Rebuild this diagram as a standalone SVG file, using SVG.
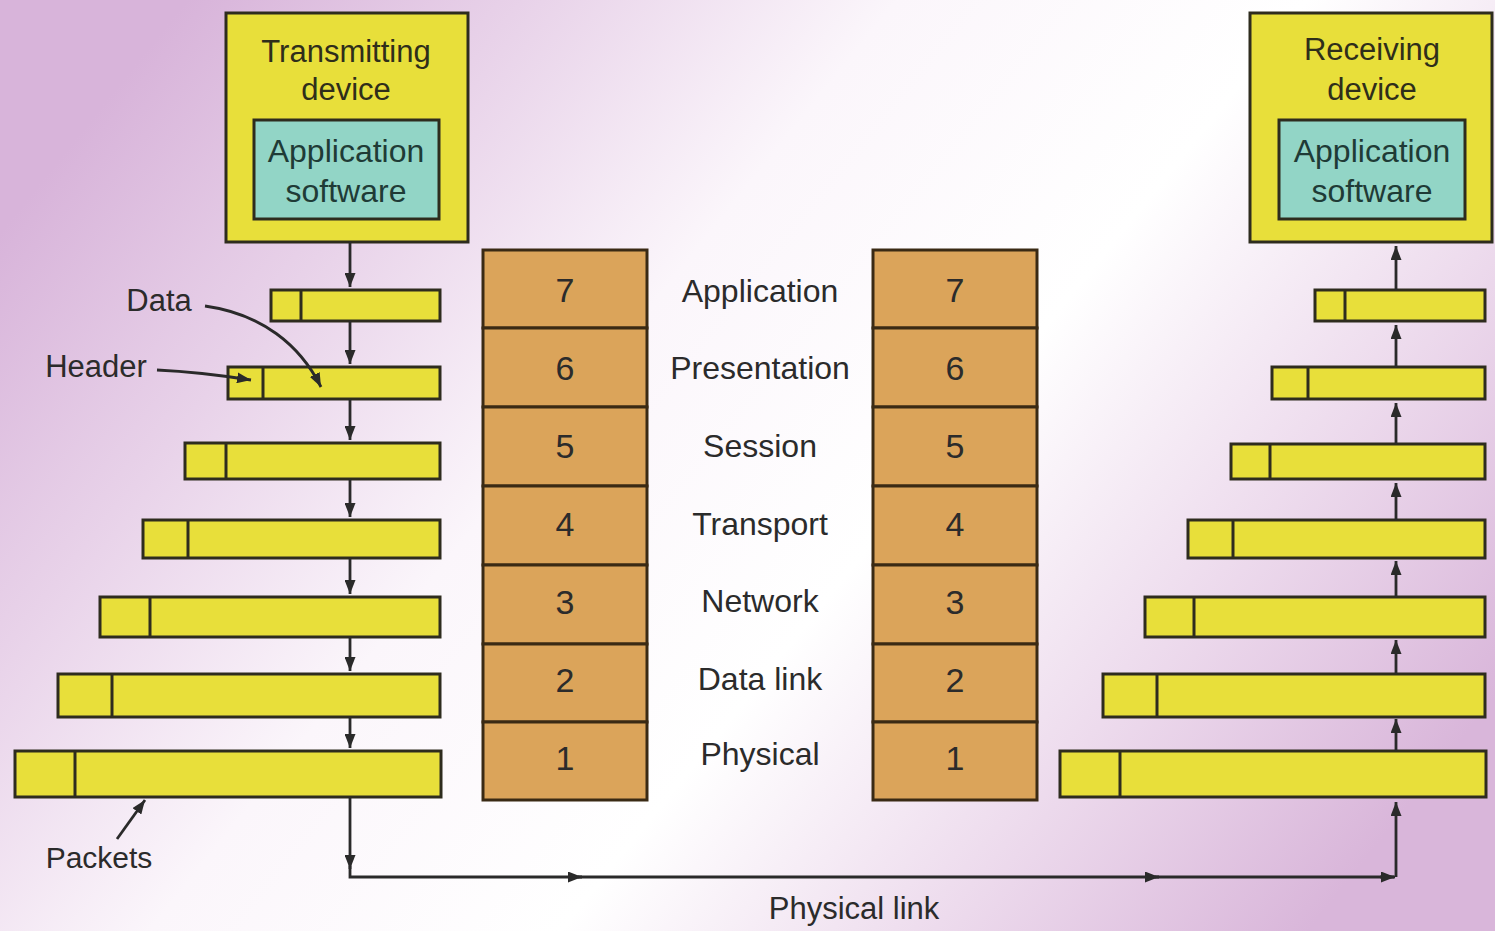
<svg xmlns="http://www.w3.org/2000/svg" width="1495" height="931" viewBox="0 0 1495 931">
<defs>
<linearGradient id="bg" x1="0" y1="0.25" x2="1" y2="0.75">
<stop offset="0" stop-color="#d8b4da"/>
<stop offset="0.18" stop-color="#e8d2e9"/>
<stop offset="0.38" stop-color="#fbf6fb"/>
<stop offset="0.6" stop-color="#ffffff"/>
<stop offset="0.8" stop-color="#eddbed"/>
<stop offset="1" stop-color="#d9b6da"/>
</linearGradient>
<marker id="ah" viewBox="0 0 14 11" refX="14" refY="5.5" markerWidth="14" markerHeight="11" orient="auto" markerUnits="userSpaceOnUse">
<path d="M0,0 L14,5.5 L0,11 z" fill="#2a2a2a"/>
</marker>
<style>
.dev{fill:#e8df3a;stroke:#2e2c1e;stroke-width:3}
.app{fill:#92d5c6;stroke:#2e2c1e;stroke-width:3}
.pk{fill:#e8df3a;stroke:#2e2c1e;stroke-width:3}
.div{stroke:#2e2c1e;stroke-width:3}
.ly{fill:#dba45a;stroke:#3a2a14;stroke-width:3}
.t{font-family:"Liberation Sans",Arial,sans-serif;fill:#2b2b2b;text-anchor:middle}
.td{font-family:"Liberation Sans",Arial,sans-serif;fill:#2f2e1a;text-anchor:middle;font-size:31px}
.ta{font-family:"Liberation Sans",Arial,sans-serif;fill:#1f3b36;text-anchor:middle;font-size:32px}
.lbl{font-size:32px}
.num{font-size:34px}
.cn{fill:none;stroke:#2a2a2a;stroke-width:2.8}
</style>
</defs>
<rect x="0" y="0" width="1495" height="931" fill="url(#bg)"/>

<g id="transmitting-device">
<rect class="dev" x="226" y="13" width="242" height="229"/>
<text class="td" x="346" y="62">Transmitting</text>
<text class="td" x="346" y="100">device</text>
<g id="tx-app">
<rect class="app" x="254" y="120" width="185" height="99"/>
<text class="ta" x="346" y="162">Application</text>
<text class="ta" x="346" y="202">software</text>
</g>
</g>

<g id="receiving-device">
<rect class="dev" x="1250" y="13" width="242" height="229"/>
<text class="td" x="1372" y="60">Receiving</text>
<text class="td" x="1372" y="100">device</text>
<g id="rx-app">
<rect class="app" x="1279" y="120" width="186" height="99"/>
<text class="ta" x="1372" y="162">Application</text>
<text class="ta" x="1372" y="202">software</text>
</g>
</g>

<g id="tx-packets">
<g id="tx-p1"><rect class="pk" x="271" y="290" width="169" height="31"/><line class="div" x1="301" y1="290" x2="301" y2="321"/></g>
<g id="tx-p2"><rect class="pk" x="228" y="367" width="212" height="32"/><line class="div" x1="263" y1="367" x2="263" y2="399"/></g>
<g id="tx-p3"><rect class="pk" x="185" y="443" width="255" height="36"/><line class="div" x1="226" y1="443" x2="226" y2="479"/></g>
<g id="tx-p4"><rect class="pk" x="143" y="520" width="297" height="38"/><line class="div" x1="188" y1="520" x2="188" y2="558"/></g>
<g id="tx-p5"><rect class="pk" x="100" y="597" width="340" height="40"/><line class="div" x1="150" y1="597" x2="150" y2="637"/></g>
<g id="tx-p6"><rect class="pk" x="58" y="674" width="382" height="43"/><line class="div" x1="112" y1="674" x2="112" y2="717"/></g>
<g id="tx-p7"><rect class="pk" x="15" y="751" width="426" height="46"/><line class="div" x1="75" y1="751" x2="75" y2="797"/></g>
</g>

<g id="rx-packets">
<g id="rx-p1"><rect class="pk" x="1315" y="290" width="170" height="31"/><line class="div" x1="1345" y1="290" x2="1345" y2="321"/></g>
<g id="rx-p2"><rect class="pk" x="1272" y="367" width="213" height="32"/><line class="div" x1="1308" y1="367" x2="1308" y2="399"/></g>
<g id="rx-p3"><rect class="pk" x="1231" y="444" width="254" height="35"/><line class="div" x1="1270" y1="444" x2="1270" y2="479"/></g>
<g id="rx-p4"><rect class="pk" x="1188" y="520" width="297" height="38"/><line class="div" x1="1233" y1="520" x2="1233" y2="558"/></g>
<g id="rx-p5"><rect class="pk" x="1145" y="597" width="340" height="40"/><line class="div" x1="1194" y1="597" x2="1194" y2="637"/></g>
<g id="rx-p6"><rect class="pk" x="1103" y="674" width="382" height="43"/><line class="div" x1="1157" y1="674" x2="1157" y2="717"/></g>
<g id="rx-p7"><rect class="pk" x="1060" y="751" width="426" height="46"/><line class="div" x1="1120" y1="751" x2="1120" y2="797"/></g>
</g>

<g id="tx-stack">
<rect class="ly" x="483" y="250" width="164" height="78"/><text class="t num" x="565" y="302">7</text>
<rect class="ly" x="483" y="328" width="164" height="79"/><text class="t num" x="565" y="380">6</text>
<rect class="ly" x="483" y="407" width="164" height="79"/><text class="t num" x="565" y="458">5</text>
<rect class="ly" x="483" y="486" width="164" height="79"/><text class="t num" x="565" y="536">4</text>
<rect class="ly" x="483" y="565" width="164" height="79"/><text class="t num" x="565" y="614">3</text>
<rect class="ly" x="483" y="644" width="164" height="78"/><text class="t num" x="565" y="692">2</text>
<rect class="ly" x="483" y="722" width="164" height="78"/><text class="t num" x="565" y="770">1</text>
</g>

<g id="rx-stack">
<rect class="ly" x="873" y="250" width="164" height="78"/><text class="t num" x="955" y="302">7</text>
<rect class="ly" x="873" y="328" width="164" height="79"/><text class="t num" x="955" y="380">6</text>
<rect class="ly" x="873" y="407" width="164" height="79"/><text class="t num" x="955" y="458">5</text>
<rect class="ly" x="873" y="486" width="164" height="79"/><text class="t num" x="955" y="536">4</text>
<rect class="ly" x="873" y="565" width="164" height="79"/><text class="t num" x="955" y="614">3</text>
<rect class="ly" x="873" y="644" width="164" height="78"/><text class="t num" x="955" y="692">2</text>
<rect class="ly" x="873" y="722" width="164" height="78"/><text class="t num" x="955" y="770">1</text>
</g>

<g id="layer-names">
<text class="t lbl" x="760" y="302">Application</text>
<text class="t lbl" x="760" y="379">Presentation</text>
<text class="t lbl" x="760" y="457">Session</text>
<text class="t lbl" x="760" y="535">Transport</text>
<text class="t lbl" x="760" y="612">Network</text>
<text class="t lbl" x="760" y="690">Data link</text>
<text class="t lbl" x="760" y="765">Physical</text>
</g>

<g id="annotations">
<text class="t" font-size="31" x="159" y="311">Data</text>
<text class="t" font-size="31" x="96" y="377">Header</text>
<text class="t" font-size="30" x="99" y="868">Packets</text>
<text class="t" font-size="31" x="854" y="919">Physical link</text>
</g>

<g id="connectors">
<path class="cn" d="M350,242 V287" marker-end="url(#ah)"/>
<path class="cn" d="M350,321 V364" marker-end="url(#ah)"/>
<path class="cn" d="M350,399 V440" marker-end="url(#ah)"/>
<path class="cn" d="M350,479 V517" marker-end="url(#ah)"/>
<path class="cn" d="M350,558 V594" marker-end="url(#ah)"/>
<path class="cn" d="M350,637 V671" marker-end="url(#ah)"/>
<path class="cn" d="M350,717 V748" marker-end="url(#ah)"/>
<path class="cn" d="M350,797 V869" marker-end="url(#ah)"/>
<path class="cn" d="M350,866 V877 H582" marker-end="url(#ah)"/>
<path class="cn" d="M578,877 H1159" marker-end="url(#ah)"/>
<path class="cn" d="M1155,877 H1394"/>
<path class="cn" d="M1380,877 H1395" marker-end="url(#ah)"/>
<path class="cn" d="M1396,877 V802" marker-end="url(#ah)"/>
<path class="cn" d="M1396,751 V719" marker-end="url(#ah)"/>
<path class="cn" d="M1396,674 V640" marker-end="url(#ah)"/>
<path class="cn" d="M1396,597 V561" marker-end="url(#ah)"/>
<path class="cn" d="M1396,520 V483" marker-end="url(#ah)"/>
<path class="cn" d="M1396,444 V403" marker-end="url(#ah)"/>
<path class="cn" d="M1396,367 V325" marker-end="url(#ah)"/>
<path class="cn" d="M1396,290 V246" marker-end="url(#ah)"/>
<path class="cn" d="M205,306 C262,314 300,345 321,387" marker-end="url(#ah)"/>
<path class="cn" d="M157,370 Q200,372 251,380" marker-end="url(#ah)"/>
<path class="cn" d="M117,839 L145,800" marker-end="url(#ah)"/>
</g>
</svg>
